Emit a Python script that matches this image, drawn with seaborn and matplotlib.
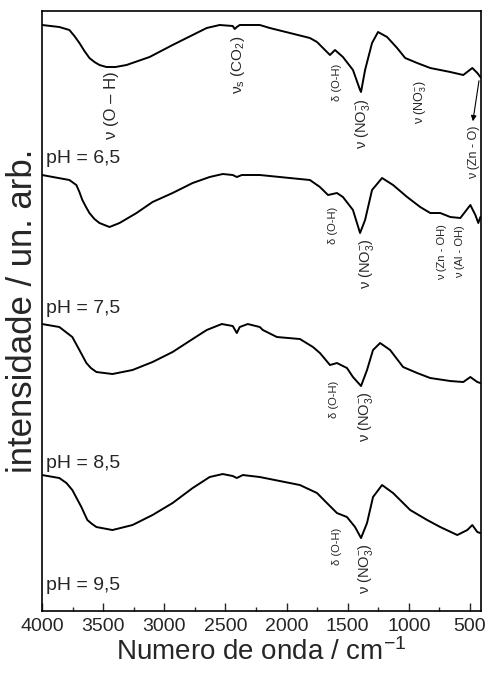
import numpy as np
import pandas as pd
import matplotlib
matplotlib.use("Agg")
import matplotlib.pyplot as plt
from matplotlib.ticker import MultipleLocator
import seaborn as sns

# FTIR spectra (wavenumber in cm-1, intensity in arb. units)
ph_labels = ["pH = 6,5", "pH = 7,5", "pH = 8,5", "pH = 9,5"]

wn_65 = [4000, 3858, 3776, 3735, 3694, 3653, 3612, 3571, 3530, 3473, 3399, 3309, 3120, 2932,
         2768, 2653, 2547, 2440, 2424, 2407, 2383, 2219, 2137, 1973, 1809, 1751, 1702, 1645,
         1604, 1539, 1457, 1399, 1391, 1358, 1301, 1252, 1178, 1096, 1030, 932, 825, 661, 555,
         481, 440, 415]
int_65 = [5.86, 5.84, 5.81, 5.75, 5.68, 5.60, 5.53, 5.49, 5.46, 5.44, 5.44, 5.46, 5.54, 5.66,
          5.76, 5.83, 5.86, 5.85, 5.82, 5.84, 5.86, 5.86, 5.83, 5.78, 5.73, 5.69, 5.63, 5.56,
          5.61, 5.54, 5.41, 5.21, 5.19, 5.41, 5.68, 5.79, 5.74, 5.63, 5.53, 5.48, 5.43, 5.39,
          5.36, 5.43, 5.38, 5.34]

wn_75 = [4000, 3776, 3719, 3694, 3670, 3640, 3612, 3571, 3530, 3448, 3366, 3227, 3096, 2932,
         2768, 2629, 2522, 2440, 2407, 2366, 2219, 2137, 1973, 1809, 1727, 1661, 1588, 1539,
         1457, 1399, 1358, 1301, 1219, 1129, 1014, 907, 825, 743, 661, 579, 497, 456, 432, 415]
int_75 = [4.36, 4.31, 4.26, 4.19, 4.11, 4.04, 3.98, 3.92, 3.88, 3.84, 3.88, 3.98, 4.09, 4.18,
          4.28, 4.34, 4.37, 4.36, 4.34, 4.36, 4.36, 4.35, 4.33, 4.31, 4.24, 4.16, 4.18, 4.14,
          4.01, 3.78, 3.91, 4.21, 4.33, 4.26, 4.14, 4.04, 3.98, 3.98, 3.94, 3.93, 4.06, 3.96,
          3.88, 3.94]

wn_85 = [4000, 3858, 3752, 3694, 3637, 3600, 3555, 3424, 3260, 3096, 2932, 2768, 2653, 2530,
         2440, 2407, 2383, 2317, 2219, 2194, 2079, 1891, 1784, 1727, 1645, 1588, 1506, 1457,
         1391, 1342, 1293, 1235, 1153, 1047, 932, 825, 661, 555, 497, 440, 415]
int_85 = [2.87, 2.84, 2.74, 2.61, 2.48, 2.43, 2.39, 2.37, 2.41, 2.49, 2.59, 2.72, 2.81, 2.87,
          2.85, 2.78, 2.84, 2.87, 2.84, 2.81, 2.74, 2.72, 2.64, 2.58, 2.46, 2.48, 2.43, 2.34,
          2.25, 2.41, 2.61, 2.68, 2.61, 2.44, 2.38, 2.33, 2.30, 2.29, 2.34, 2.29, 2.28]

wn_95 = [4000, 3858, 3800, 3752, 3678, 3629, 3590, 3555, 3424, 3260, 3096, 2932, 2768, 2629,
         2522, 2440, 2407, 2358, 2219, 2055, 1891, 1751, 1670, 1588, 1506, 1440, 1391, 1342,
         1293, 1219, 1129, 989, 850, 743, 604, 522, 481, 440, 415]
int_95 = [1.36, 1.33, 1.28, 1.21, 1.04, 0.91, 0.87, 0.84, 0.81, 0.86, 0.96, 1.08, 1.23, 1.34,
          1.37, 1.35, 1.33, 1.36, 1.34, 1.30, 1.26, 1.18, 1.08, 0.98, 0.94, 0.84, 0.73, 0.88,
          1.14, 1.26, 1.18, 1.01, 0.91, 0.84, 0.76, 0.81, 0.86, 0.79, 0.78]

spectra = [(wn_65, int_65), (wn_75, int_75), (wn_85, int_85), (wn_95, int_95)]

# band assignments: text, wavenumber, intensity, font size
bands = [
    (r"ν (O – H)", 3431, 5.06, 12),
    (r"ν$_s$ (CO$_2$)", 2399, 5.46, 11),
    (r"δ (O-H)", 1588, 5.29, 8),
    (r"ν (NO$_3^{-}$)", 1383, 4.87, 10.5),
    (r"ν (NO$_3^{-}$)", 900, 5.09, 9),
    (r"ν (Zn - O)", 466, 4.59, 9),
    (r"δ (O-H)", 1620, 3.86, 8),
    (r"ν (NO$_3^{-}$)", 1350, 3.47, 10.5),
    (r"ν (Zn - OH)", 727, 3.59, 8),
    (r"ν (Al - OH)", 580, 3.59, 8),
    (r"δ (O-H)", 1612, 2.12, 8),
    (r"ν (NO$_3^{-}$)", 1358, 1.94, 10.5),
    (r"δ (O-H)", 1588, 0.65, 8),
    (r"ν (NO$_3^{-}$)", 1358, 0.42, 10.5),
]
ph_y = [4.53, 3.03, 1.48, 0.26]

sns.set_theme(style="ticks")
plt.rcParams['font.family'] = ['Liberation Sans', 'DejaVu Sans']
plt.rcParams['mathtext.fontset'] = 'custom'
plt.rcParams['mathtext.rm'] = 'Liberation Sans'
plt.rcParams['mathtext.it'] = 'Liberation Sans:italic'
plt.rcParams['mathtext.default'] = 'regular'

fig = plt.figure(figsize=(4.86, 6.79), dpi=100)
ax = fig.add_axes([0.0864, 0.1001, 0.9033, 0.8837])

for wn, inten in spectra:
    sns.lineplot(x=wn, y=inten, color='black', linewidth=1.4, estimator=None, ax=ax)

for lab, yv in zip(ph_labels, ph_y):
    ax.text(3965, yv, lab, fontsize=14, ha='left', va='center')

for txt, xv, yv, fs in bands:
    ax.text(xv, yv, txt, fontsize=fs, rotation=90, ha='center', va='center')

ax.annotate("", xy=(480, 4.87), xytext=(423, 5.33),
            arrowprops=dict(arrowstyle='-|>', color='black', lw=0.8, mutation_scale=8))

ax.set_xlim(4000, 410)
ax.set_ylim(0, 6)
ax.set_xticks([4000, 3500, 3000, 2500, 2000, 1500, 1000, 500])
ax.xaxis.set_minor_locator(MultipleLocator(250))
ax.set_yticks([])
ax.tick_params(axis='x', which='major', direction='in', length=6, width=1, labelsize=14, pad=5)
ax.tick_params(axis='x', which='minor', direction='in', length=3, width=1)
for sp in ax.spines.values():
    sp.set_visible(True)
    sp.set_color('black')
    sp.set_linewidth(1.2)

ax.set_xlabel("Numero de onda / cm$^{-1}$", fontsize=20, labelpad=2)
ax.set_ylabel("intensidade / un. arb.", fontsize=25, labelpad=2)

fig.savefig("out.png", dpi=100)
